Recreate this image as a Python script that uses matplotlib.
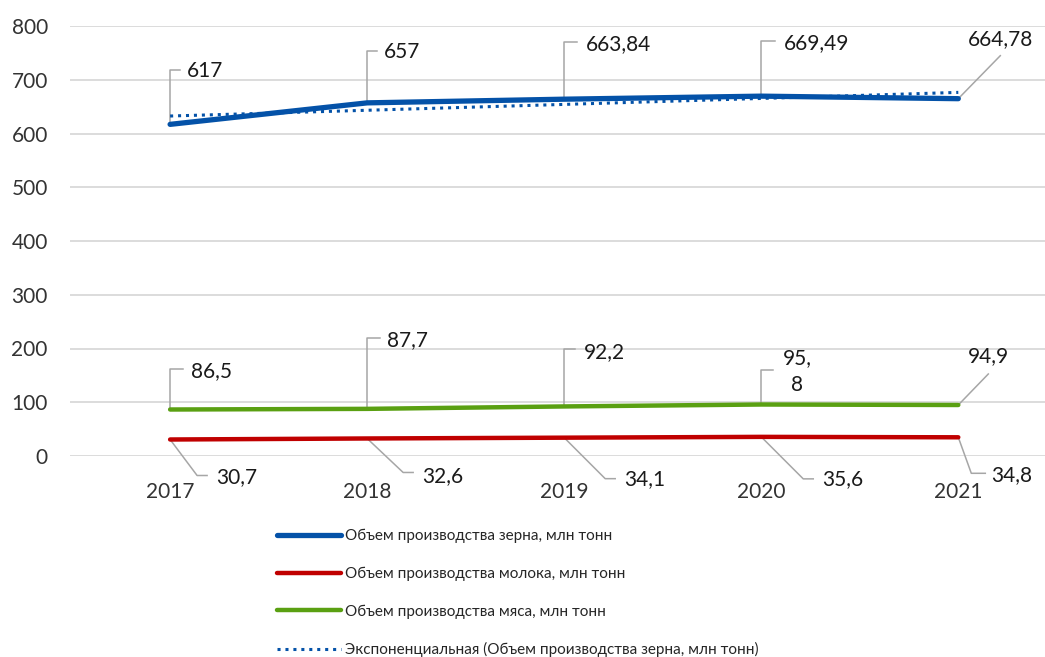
import numpy as np
import matplotlib
matplotlib.use('agg')
import matplotlib.pyplot as plt

plt.rcParams['font.family'] = ['Lato', 'DejaVu Sans']

## data
years = ['2017', '2018', '2019', '2020', '2021']
grain = [617, 657, 663.84, 669.49, 664.78]
milk = [30.7, 32.6, 34.1, 35.6, 34.8]
meat = [86.5, 87.7, 92.2, 95.8, 94.9]
grain_lbl = ['617', '657', '663,84', '669,49', '664,78']
milk_lbl = ['30,7', '32,6', '34,1', '35,6', '34,8']
meat_lbl = ['86,5', '87,7', '92,2', '95,\n8', '94,9']
names = ['Объем производства зерна, млн тонн',
         'Объем производства молока, млн тонн',
         'Объем производства мяса, млн тонн',
         'Экспоненциальная (Объем производства зерна, млн тонн)']

## leader vertices and text position, pixel offsets from the point (y down)
grain_lead = [[(0, -54), (10, -54)], [(0, -52), (10, -52)], [(0, -57), (13, -57)],
              [(0, -55), (14, -55)], [(42, -43)]]
grain_txt = [(17, -53, 'left'), (17, -51, 'left'), (22, -55, 'left'),
             (23, -53, 'left'), (42, -60, 'center')]
meat_lead = [[(0, -41), (13, -41)], [(0, -71), (13, -71)], [(0, -57), (11, -57)],
             [(0, -35), (12, -35)], [(30, -31)]]
meat_txt = [(21, -38, 'left'), (20, -69, 'left'), (20, -54, 'left'),
            (36, -33, 'center'), (30, -49, 'center')]
milk_lead = [[(27, 36), (37, 36)], [(36, 34), (46, 34)], [(41, 41), (51, 41)],
             [(42, 42), (52, 42)], [(13, 36), (27, 36)]]
milk_txt = [(46, 38, 'left'), (55, 38, 'left'), (60, 41, 'left'),
            (61, 42, 'left'), (33, 38, 'left')]

blue = '#0452A8'
red = '#C00000'
green = '#5AA012'

fig = plt.figure(figsize=(10.45, 6.57), dpi=100)
ax = fig.add_axes([70/1045, 1-456/657, 975/1045, 430/657])
x = np.arange(len(years))

## exponential trend of grain
b, a = np.polyfit(x, np.log(grain), 1)
trend = np.exp(a + b*x)

l1, = ax.plot(x, grain, color=blue, lw=3.8, solid_capstyle='round', zorder=4)
l2, = ax.plot(x, milk, color=red, lw=3.2, solid_capstyle='round', zorder=4)
l3, = ax.plot(x, meat, color=green, lw=3.2, solid_capstyle='round', zorder=4)
l4, = ax.plot(x, trend, color=blue, lw=2.2, ls=(0, (1, 1.6)), zorder=5)

ax.set_xlim(-0.508, 4.44)
ax.set_ylim(0, 800)
ax.set_yticks(range(0, 801, 100))
ax.set_xticks(x)
ax.set_xticklabels(years)
ax.grid(axis='y', color='#D9D9D9', lw=1.3)
ax.set_axisbelow(True)
for s in ax.spines.values():
    s.set_visible(False)
ax.tick_params(axis='both', length=0, labelsize=15, colors='#333333')
ax.tick_params(axis='y', pad=16)
ax.tick_params(axis='x', pad=19)

def px2data(pt, off):
    d = ax.transData.transform(pt)
    return ax.transData.inverted().transform((d[0] + off[0], d[1] - off[1]))

def labels(vals, lbls, leads, txts):
    for i in range(len(vals)):
        p = (x[i], vals[i])
        pts = [p] + [px2data(p, o) for o in leads[i]]
        xs = [q[0] for q in pts]
        ys = [q[1] for q in pts]
        ax.plot(xs, ys, color='#A6A6A6', lw=1.1, clip_on=False, zorder=3)
        dx, dy, ha = txts[i]
        tp = px2data(p, (dx, dy))
        ax.text(tp[0], tp[1], lbls[i], ha=ha, va='center', fontsize=15,
                color='#1A1A1A', linespacing=1.45, clip_on=False, zorder=6)

labels(grain, grain_lbl, grain_lead, grain_txt)
labels(meat, meat_lbl, meat_lead, meat_txt)
labels(milk, milk_lbl, milk_lead, milk_txt)

fig.legend([l1, l2, l3, l4], names, loc='upper left',
           bbox_to_anchor=(263/1045, 1-515/657), frameon=False, fontsize=11,
           handlelength=4.2, handletextpad=0.25, labelspacing=1.54,
           labelcolor='#262626')

fig.savefig('out.png', dpi=100)
